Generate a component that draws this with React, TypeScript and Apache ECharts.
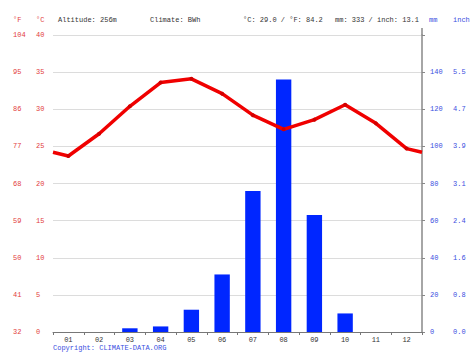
import React, { useEffect, useRef } from "react";
import * as echarts from "echarts";

const months = ["01", "02", "03", "04", "05", "06", "07", "08", "09", "10", "11", "12"];
const tempC = [23.7, 26.7, 30.4, 33.6, 34.1, 32.1, 29.2, 27.3, 28.6, 30.6, 28.1, 24.7];
const precipMm = [0, 0, 2, 3, 12, 31, 76, 136, 63, 10, 0, 0];

const headerTexts = [
  { text: "Altitude: 256m", x: 58 },
  { text: "Climate: BWh", x: 150 },
  { text: "°C: 29.0 / °F: 84.2", x: 243 },
  { text: "mm: 333 / inch: 13.1", x: 335 },
];
const copyright = "Copyright: CLIMATE-DATA.ORG";

const FONT = "'Liberation Mono', 'DejaVu Sans Mono', monospace";
const RED = "#e23c3c";
const BLUE = "#3a4ee0";

export default function App() {
  const ref = useRef<HTMLDivElement>(null);
  useEffect(() => {
    if (!ref.current) return;
    const chart = echarts.init(ref.current, null, { renderer: "svg" });
    const edge = (tempC[0] + tempC[tempC.length - 1]) / 2;
    const lineData: any[] = [{ value: [0, edge], symbol: "none" }];
    tempC.forEach((t, i) => lineData.push({ value: [i + 0.5, t] }));
    lineData.push({ value: [months.length, edge], symbol: "none" });

    const smallText = { fontFamily: FONT, fontSize: 7 };
    chart.setOption({
      animation: false,
      grid: { left: 53, right: 52, top: 35, bottom: 23 },
      xAxis: [
        {
          type: "category",
          data: months,
          boundaryGap: true,
          axisLine: { show: true, lineStyle: { color: "#777", width: 1 } },
          axisTick: { show: true, length: 3, lineStyle: { color: "#777" } },
          axisLabel: { ...smallText, color: "#333", margin: 4 },
          splitLine: { show: false },
        },
        {
          type: "value",
          min: 0,
          max: months.length,
          show: false,
        },
      ],
      yAxis: [
        {
          type: "value",
          min: 0,
          max: 40,
          interval: 5,
          position: "left",
          axisLine: { show: false },
          axisTick: { show: false },
          axisLabel: { ...smallText, color: RED, align: "left", margin: 17 },
          splitLine: { show: true, lineStyle: { color: "#dcdcdc", width: 1 } },
        },
        {
          type: "value",
          min: 0,
          max: 40,
          interval: 5,
          position: "left",
          axisLine: { show: false },
          axisTick: { show: false },
          axisLabel: {
            ...smallText,
            color: RED,
            align: "left",
            margin: 40,
            formatter: (v: number) => String(Math.round((v * 9) / 5 + 32)),
          },
          splitLine: { show: false },
        },
        {
          type: "value",
          min: 0,
          max: 160,
          interval: 20,
          position: "right",
          axisLine: { show: true, lineStyle: { color: "#888", width: 1.5 } },
          axisTick: { show: true, length: 3, lineStyle: { color: "#888" } },
          axisLabel: {
            ...smallText,
            color: BLUE,
            align: "left",
            margin: 8,
            formatter: (v: number) => (v >= 160 ? "" : String(v)),
          },
          splitLine: { show: false },
        },
        {
          type: "value",
          min: 0,
          max: 160,
          interval: 20,
          position: "right",
          axisLine: { show: false },
          axisTick: { show: false },
          axisLabel: {
            ...smallText,
            color: BLUE,
            align: "left",
            margin: 31,
            formatter: (v: number) => (v >= 160 ? "" : (v / 25.4).toFixed(1)),
          },
          splitLine: { show: false },
        },
      ],
      graphic: [
        { type: "text", left: 13, top: 16, style: { text: "°F", fill: RED, font: `7px ${FONT}` } },
        { type: "text", left: 36, top: 16, style: { text: "°C", fill: RED, font: `7px ${FONT}` } },
        ...headerTexts.map((h) => ({
          type: "text",
          left: h.x,
          top: 16,
          style: { text: h.text, fill: "#333", font: `7px ${FONT}` },
        })),
        { type: "text", left: 429, top: 16, style: { text: "mm", fill: BLUE, font: `7px ${FONT}` } },
        { type: "text", left: 453, top: 16, style: { text: "inch", fill: BLUE, font: `7px ${FONT}` } },
        {
          type: "line",
          shape: { x1: 422, y1: 28, x2: 422, y2: 35 },
          style: { stroke: "#888", lineWidth: 1.5 },
        },
        {
          type: "text",
          left: 53,
          top: 344,
          style: { text: copyright, fill: BLUE, font: `7px ${FONT}` },
        },
      ],
      series: [
        {
          type: "bar",
          xAxisIndex: 0,
          yAxisIndex: 2,
          data: precipMm,
          barWidth: "50%",
          itemStyle: { color: "#0026ff" },
          z: 2,
        },
        {
          type: "line",
          xAxisIndex: 1,
          yAxisIndex: 0,
          data: lineData,
          symbol: "circle",
          symbolSize: 4,
          showSymbol: true,
          lineStyle: { color: "#f00000", width: 3.5 },
          itemStyle: { color: "#d00000" },
          z: 5,
        },
      ],
    });
    return () => chart.dispose();
  }, []);
  return (
    <div
      ref={ref}
      style={{ position: "fixed", left: 0, top: 0, width: 474, height: 355, background: "#fff" }}
    />
  );
}
